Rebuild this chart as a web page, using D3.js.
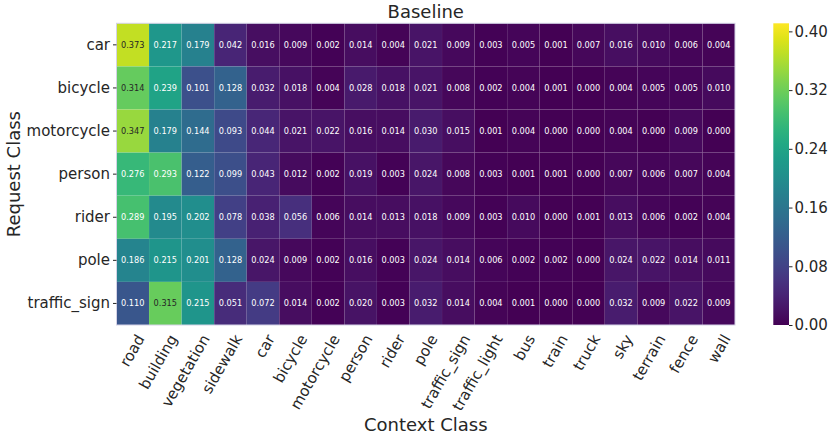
<!DOCTYPE html>
<html>
<head>
<meta charset="utf-8">
<script src="https://cdn.jsdelivr.net/npm/d3@7"></script>
<style>
  html, body { margin: 0; padding: 0; background: #fff; }
  svg text { font-family: 'DejaVu Sans', sans-serif; fill: #262626; }
</style>
</head>
<body>
<svg id="chart" width="831" height="439"></svg>
<script>
// request classes (rows) and context classes (columns)
var requestClasses = ['car', 'bicycle', 'motorcycle', 'person', 'rider', 'pole', 'traffic_sign'];
var contextClasses = ['road', 'building', 'vegetation', 'sidewalk', 'car', 'bicycle', 'motorcycle', 'person',
  'rider', 'pole', 'traffic_sign', 'traffic_light', 'bus', 'train', 'truck', 'sky', 'terrain', 'fence', 'wall'];

var carRow = [0.373, 0.217, 0.179, 0.042, 0.016, 0.009, 0.002, 0.014, 0.004, 0.021, 0.009, 0.003, 0.005, 0.001, 0.007, 0.016, 0.010, 0.006, 0.004];
var bicycleRow = [0.314, 0.239, 0.101, 0.128, 0.032, 0.018, 0.004, 0.028, 0.018, 0.021, 0.008, 0.002, 0.004, 0.001, 0.000, 0.004, 0.005, 0.005, 0.010];
var motorcycleRow = [0.347, 0.179, 0.144, 0.093, 0.044, 0.021, 0.022, 0.016, 0.014, 0.030, 0.015, 0.001, 0.004, 0.000, 0.000, 0.004, 0.000, 0.009, 0.000];
var personRow = [0.276, 0.293, 0.122, 0.099, 0.043, 0.012, 0.002, 0.019, 0.003, 0.024, 0.008, 0.003, 0.001, 0.001, 0.000, 0.007, 0.006, 0.007, 0.004];
var riderRow = [0.289, 0.195, 0.202, 0.078, 0.038, 0.056, 0.006, 0.014, 0.013, 0.018, 0.009, 0.003, 0.010, 0.000, 0.001, 0.013, 0.006, 0.002, 0.004];
var poleRow = [0.186, 0.215, 0.201, 0.128, 0.024, 0.009, 0.002, 0.016, 0.003, 0.024, 0.014, 0.006, 0.002, 0.002, 0.000, 0.024, 0.022, 0.014, 0.011];
var trafficSignRow = [0.110, 0.315, 0.215, 0.051, 0.072, 0.014, 0.002, 0.020, 0.003, 0.032, 0.014, 0.004, 0.001, 0.000, 0.000, 0.032, 0.009, 0.022, 0.009];

var colorTicks = [0.00, 0.08, 0.16, 0.24, 0.32, 0.40];
var colorMax = 0.411;

(function () {
  'use strict';

  var rows = [carRow, bicycleRow, motorcycleRow, personRow, riderRow, poleRow, trafficSignRow];

  var cells = [];
  rows.forEach(function (row, i) {
    row.forEach(function (v, j) {
      cells.push({ req: requestClasses[i], ctx: j, value: v });
    });
  });

  var svg = d3.select('#chart');
  var plot = { left: 116.5, right: 735, top: 23.3, bottom: 325 };

  var x = d3.scaleBand().domain(d3.range(contextClasses.length)).range([plot.left, plot.right]);
  var y = d3.scaleBand().domain(requestClasses).range([plot.top, plot.bottom]);
  var color = d3.scaleSequential(d3.interpolateViridis).domain([0, colorMax]);

  // seaborn style text colour pick by relative luminance
  function luminance(c) {
    var rgb = d3.rgb(c);
    var ch = [rgb.r, rgb.g, rgb.b].map(function (v) {
      v = v / 255;
      return v <= 0.03928 ? v / 12.92 : Math.pow((v + 0.055) / 1.055, 2.4);
    });
    return 0.2126 * ch[0] + 0.7152 * ch[1] + 0.0722 * ch[2];
  }

  var g = svg.append('g');

  g.selectAll('rect.cell')
    .data(cells)
    .enter().append('rect')
    .attr('class', 'cell')
    .attr('x', function (d) { return x(d.ctx); })
    .attr('y', function (d) { return y(d.req); })
    .attr('width', x.bandwidth())
    .attr('height', y.bandwidth())
    .attr('fill', function (d) { return color(d.value); })
    .attr('stroke', 'rgba(255,255,255,0.05)')
    .attr('stroke-width', 0.5);

  g.selectAll('text.val')
    .data(cells)
    .enter().append('text')
    .attr('class', 'val')
    .attr('x', function (d) { return x(d.ctx) + x.bandwidth() / 2; })
    .attr('y', function (d) { return y(d.req) + y.bandwidth() / 2; })
    .attr('text-anchor', 'middle')
    .attr('dominant-baseline', 'central')
    .style('font-size', '8.2px')
    .style('fill', function (d) { return luminance(color(d.value)) > 0.408 ? '#262626' : '#ffffff'; })
    .text(function (d) { return d.value.toFixed(3); });

  // light frame round the heatmap
  g.append('rect')
    .attr('x', plot.left).attr('y', plot.top)
    .attr('width', plot.right - plot.left).attr('height', plot.bottom - plot.top)
    .attr('fill', 'none')
    .attr('stroke', '#d4d2e6')
    .attr('stroke-width', 1);

  // y axis
  var yAxis = svg.append('g')
    .attr('transform', 'translate(' + plot.left + ',0)')
    .call(d3.axisLeft(y).tickSize(3.5).tickPadding(3));
  yAxis.select('.domain').remove();
  yAxis.selectAll('line').attr('stroke', '#262626');
  yAxis.selectAll('text').style('font-size', '15px').attr('font-family', null);

  // x axis, labels turned 60 degrees
  var xAxis = svg.append('g')
    .attr('transform', 'translate(0,' + plot.bottom + ')')
    .call(d3.axisBottom(x).tickSize(0).tickFormat(function (i) { return contextClasses[i]; }));
  xAxis.select('.domain').remove();
  xAxis.selectAll('text')
    .attr('font-family', null)
    .style('font-size', '15px')
    .attr('text-anchor', 'end')
    .attr('dy', null)
    .attr('y', 0)
    .attr('transform', 'translate(8,11) rotate(-60)')
    .attr('dominant-baseline', 'central');

  svg.append('text')
    .attr('x', (plot.left + plot.right) / 2)
    .attr('y', 18)
    .attr('text-anchor', 'middle')
    .style('font-size', '18px')
    .text('Baseline');

  svg.append('text')
    .attr('x', (plot.left + plot.right) / 2)
    .attr('y', 431)
    .attr('text-anchor', 'middle')
    .style('font-size', '18px')
    .text('Context Class');

  svg.append('text')
    .attr('transform', 'translate(20,' + (plot.top + plot.bottom) / 2 + ') rotate(-90)')
    .attr('text-anchor', 'middle')
    .style('font-size', '18px')
    .text('Request Class');

  // colour bar
  var bar = { left: 773.3, width: 15.7 };
  var cy = d3.scaleLinear().domain([0, colorMax]).range([plot.bottom, plot.top]);

  var defs = svg.append('defs');
  var grad = defs.append('linearGradient')
    .attr('id', 'viridisGrad')
    .attr('x1', 0).attr('y1', 1).attr('x2', 0).attr('y2', 0);
  d3.range(0, 1.0001, 0.05).forEach(function (t) {
    grad.append('stop')
      .attr('offset', t)
      .attr('stop-color', d3.interpolateViridis(t));
  });

  svg.append('rect')
    .attr('x', bar.left)
    .attr('y', plot.top)
    .attr('width', bar.width)
    .attr('height', plot.bottom - plot.top)
    .attr('fill', 'url(#viridisGrad)');

  var cAxis = svg.append('g')
    .attr('transform', 'translate(' + (bar.left + bar.width) + ',0)')
    .call(d3.axisRight(cy).tickValues(colorTicks).tickFormat(d3.format('.2f')).tickSize(3.5).tickPadding(2));
  cAxis.select('.domain').remove();
  cAxis.selectAll('line').attr('stroke', '#262626');
  cAxis.selectAll('text').attr('font-family', null).style('font-size', '15px');
}());
</script>
</body>
</html>
